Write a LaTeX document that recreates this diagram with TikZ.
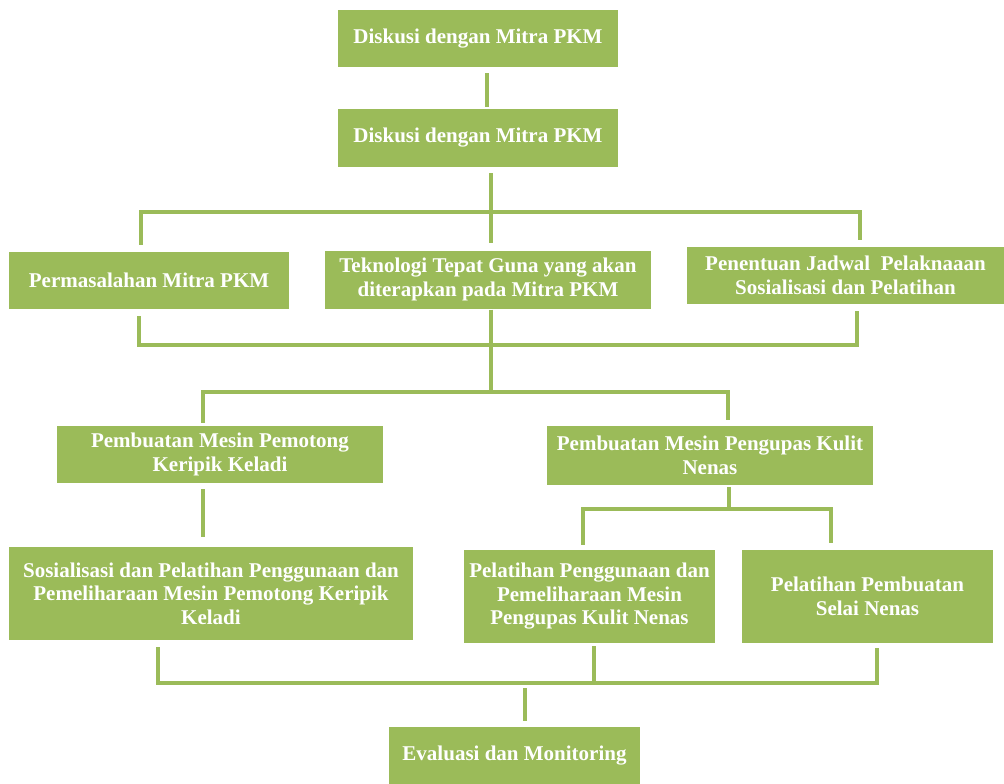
\documentclass[tikz,border=0pt]{standalone}
\usepackage{fontspec}
\setmainfont{Liberation Serif}
\definecolor{boxgreen}{HTML}{9BBB59}

\begin{document}
\begin{tikzpicture}[x=1pt, y=-1pt,
  box/.style={fill=boxgreen, text=white, inner sep=0pt, align=center,
    font=\fontsize{21}{23.5}\selectfont\bfseries},
  link/.style={draw=boxgreen, line width=4pt}]
\useasboundingbox (0,0) rectangle (1004,784);
\node[box, minimum width=280, minimum height=57] (node_disk1) at (478,38.5) {Diskusi dengan Mitra PKM};
\node[box, minimum width=280, minimum height=58] (node_disk2) at (478,138) {Diskusi dengan Mitra PKM};
\node[box, minimum width=280, minimum height=57] (node_perm) at (149,280.5) {Permasalahan Mitra PKM};
\node[box, minimum width=326, minimum height=58] (node_tek) at (488,279.5) {Teknologi Tepat Guna yang akan\\diterapkan pada Mitra PKM};
\node[box, minimum width=317, minimum height=57] (node_pen) at (845.5,275.5) {Penentuan Jadwal~~Pelaknaaan\\Sosialisasi dan Pelatihan};
\node[box, minimum width=326, minimum height=57] (node_potong) at (220,454.5) {Pembuatan Mesin Pemotong\\Keripik Keladi};
\node[box, minimum width=326, minimum height=59] (node_kupas) at (710,455.5) {Pembuatan Mesin Pengupas Kulit\\Nenas};
\node[box, minimum width=404, minimum height=93] (node_sos) at (211,593.5) {Sosialisasi dan Pelatihan Penggunaan dan\\Pemeliharaan Mesin Pemotong Keripik\\Keladi};
\node[box, minimum width=251, minimum height=93] (node_latih) at (589.5,596.5) {Pelatihan Penggunaan dan\\Pemeliharaan Mesin\\Pengupas Kulit Nenas};
\node[box, minimum width=251, minimum height=93] (node_selai) at (867.5,596.5) {Pelatihan Pembuatan\\Selai Nenas};
\node[box, minimum width=251, minimum height=57] (node_eval) at (514.5,755.5) {Evaluasi dan Monitoring};

\coordinate (c_tl) at (141,212);
\coordinate (c_tr) at (860,212);
\coordinate (c_bl) at (139,345);
\coordinate (c_br) at (857,345);
\coordinate (c_m) at (491,392);
\coordinate (c_ml) at (203,392);
\coordinate (c_mr) at (728,392);
\coordinate (c_km) at (729,509);
\coordinate (c_kl) at (583,509);
\coordinate (c_kr) at (831,509);
\coordinate (c_el) at (158,683);
\coordinate (c_er) at (877,683);
\coordinate (c_ex) at (594,683);
\coordinate (c_em) at (525,683);

\draw[link] ([xshift=9pt,yshift=-6pt]node_disk1.south) -- ([xshift=9pt,yshift=2pt]node_disk2.north);
\draw[link] ([xshift=13pt,yshift=-6pt]node_disk2.south) -- ([xshift=3pt,yshift=7pt]node_tek.north);
\draw[link] ([yshift=7pt]node_perm.north -| c_tl) -- (c_tl) -- (c_tr) -- ([yshift=7pt]node_pen.north -| c_tr);
\draw[link] ([yshift=-7pt]node_perm.south -| c_bl) -- (c_bl) -- (c_br) -- ([yshift=-7pt]node_pen.south -| c_br);
\draw[link] ([xshift=3pt,yshift=-1pt]node_tek.south) -- (c_m);
\draw[link] ([yshift=3pt]node_potong.north -| c_ml) -- (c_ml) -- (c_mr) -- ([yshift=6pt]node_kupas.north -| c_mr);
\draw[link] ([yshift=-6pt]node_potong.south -| c_ml) -- ([yshift=10pt]node_sos.north -| c_ml);
\draw[link] ([yshift=-2pt]node_kupas.south -| c_km) -- (c_km);
\draw[link] ([yshift=5pt]node_latih.north -| c_kl) -- (c_kl) -- (c_kr) -- ([yshift=7pt]node_selai.north -| c_kr);
\draw[link] ([yshift=-7pt]node_sos.south -| c_el) -- (c_el) -- (c_er) -- ([yshift=-5pt]node_selai.south -| c_er);
\draw[link] ([yshift=-3pt]node_latih.south -| c_ex) -- (c_ex);
\draw[link] ([yshift=-5pt]c_em) -- ([yshift=6pt]node_eval.north -| c_em);

\end{tikzpicture}
\end{document}
